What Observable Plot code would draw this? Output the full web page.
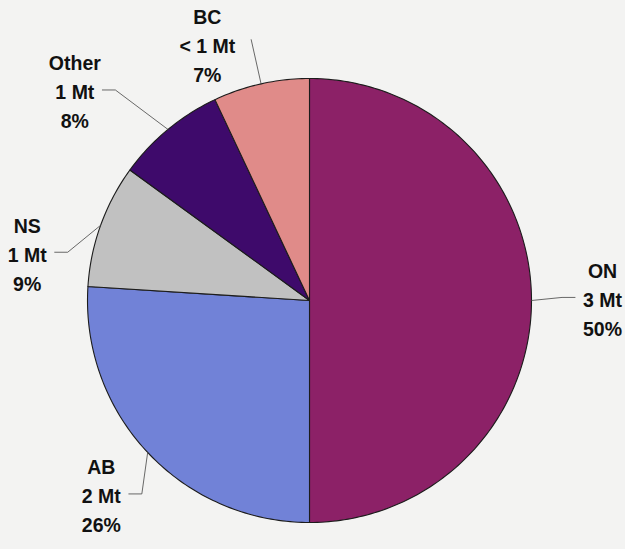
<!DOCTYPE html>
<html>
<head>
<meta charset="utf-8">
<script src="https://cdn.jsdelivr.net/npm/d3@7"></script>
<script src="https://cdn.jsdelivr.net/npm/@observablehq/plot@0.6"></script>
<style>
  html, body { margin: 0; padding: 0; background: #f3f3f2; }
  #chart { width: 625px; height: 549px; }
</style>
</head>
<body>
<div id="chart"></div>
<script>
// ---- data ----
const regions = ["ON", "AB", "NS", "Other", "BC"];
const shares = [50, 26, 9, 8, 7];            // percent
const amounts = ["3 Mt", "2 Mt", "1 Mt", "1 Mt", "< 1 Mt"];
const colors = ["#8c2167", "#7182d7", "#c1c1c1", "#3e0a6b", "#e08b89"];

// ---- layout (label placement, polar, in pie-radius units / degrees clockwise from top) ----
const labelAngle = [89.4, 227.1, 279.7, 311.9, 338.3];
const labelRadius = [1.32, 1.28, 1.29, 1.42, 1.245];
const R = 222;              // pie radius in px
const CX = 309, CY = 300;   // pie centre in px
const W = 625, H = 549;
const FS = 19.5;
const FONT = `bold ${FS}px 'Liberation Sans', Arial, sans-serif`;

const rad = a => a * Math.PI / 180;
const polar = (a, r) => ({x: r * Math.sin(rad(a)), y: r * Math.cos(rad(a))});

const ctx = document.createElement("canvas").getContext("2d");
ctx.font = FONT;
const tw = s => ctx.measureText(s).width;

// slice polygons
const total = d3.sum(shares);
const polys = [];
const leaders = [];
const labels = [];
let acc = 0;
regions.forEach((name, i) => {
  const a0 = acc / total * 360;
  acc += shares[i];
  const a1 = acc / total * 360;
  const n = Math.max(2, Math.ceil((a1 - a0) / 1));
  polys.push({name, color: colors[i], x: 0, y: 0});
  for (let k = 0; k <= n; k++) {
    const p = polar(a0 + (a1 - a0) * k / n, 1);
    polys.push({name, color: colors[i], ...p});
  }
  polys.push({name, color: colors[i], x: 0, y: 0});

  const mid = (a0 + a1) / 2;
  const lp = polar(labelAngle[i], labelRadius[i]);
  labels.push({text: `${name}\n${amounts[i]}\n${shares[i]}%`, ...lp});

  // leader line: arc point at mid-angle -> elbow -> label side
  const ap = polar(mid, 1);
  const hw = tw(amounts[i]) / 2;
  const right = lp.x > 0;
  const sgn = right ? -1 : 1;
  const endX = lp.x + sgn * (hw + 8) / R;
  const elbowX = endX + sgn * 13 / R;
  if (name === "BC") {
    leaders.push({name, x: endX + 8 / R, y: lp.y + 4 / R}, {name, ...ap});
  } else {
    leaders.push({name, x: endX, y: lp.y}, {name, x: elbowX, y: lp.y}, {name, ...ap});
  }
});

const chart = Plot.plot({
  width: W,
  height: H,
  margin: 0,
  x: {domain: [-CX / R, (W - CX) / R], axis: null},
  y: {domain: [-(H - CY) / R, CY / R], axis: null},
  color: {type: "identity"},
  style: {background: "#f3f3f2", overflow: "visible"},
  marks: [
    Plot.line(polys, {x: "x", y: "y", z: "name", fill: "color", stroke: "#1c1c1c", strokeWidth: 1.1, curve: "linear-closed"}),
    Plot.line(leaders, {x: "x", y: "y", z: "name", stroke: "#444", strokeWidth: 0.8}),
    Plot.text(labels, {x: "x", y: "y", text: "text", fontSize: FS, fontWeight: "bold",
      fontFamily: "'Liberation Sans', Arial, sans-serif", lineHeight: 29 / FS, fill: "#111", textAnchor: "middle"})
  ]
});
document.getElementById("chart").appendChild(chart);
</script>
</body>
</html>
